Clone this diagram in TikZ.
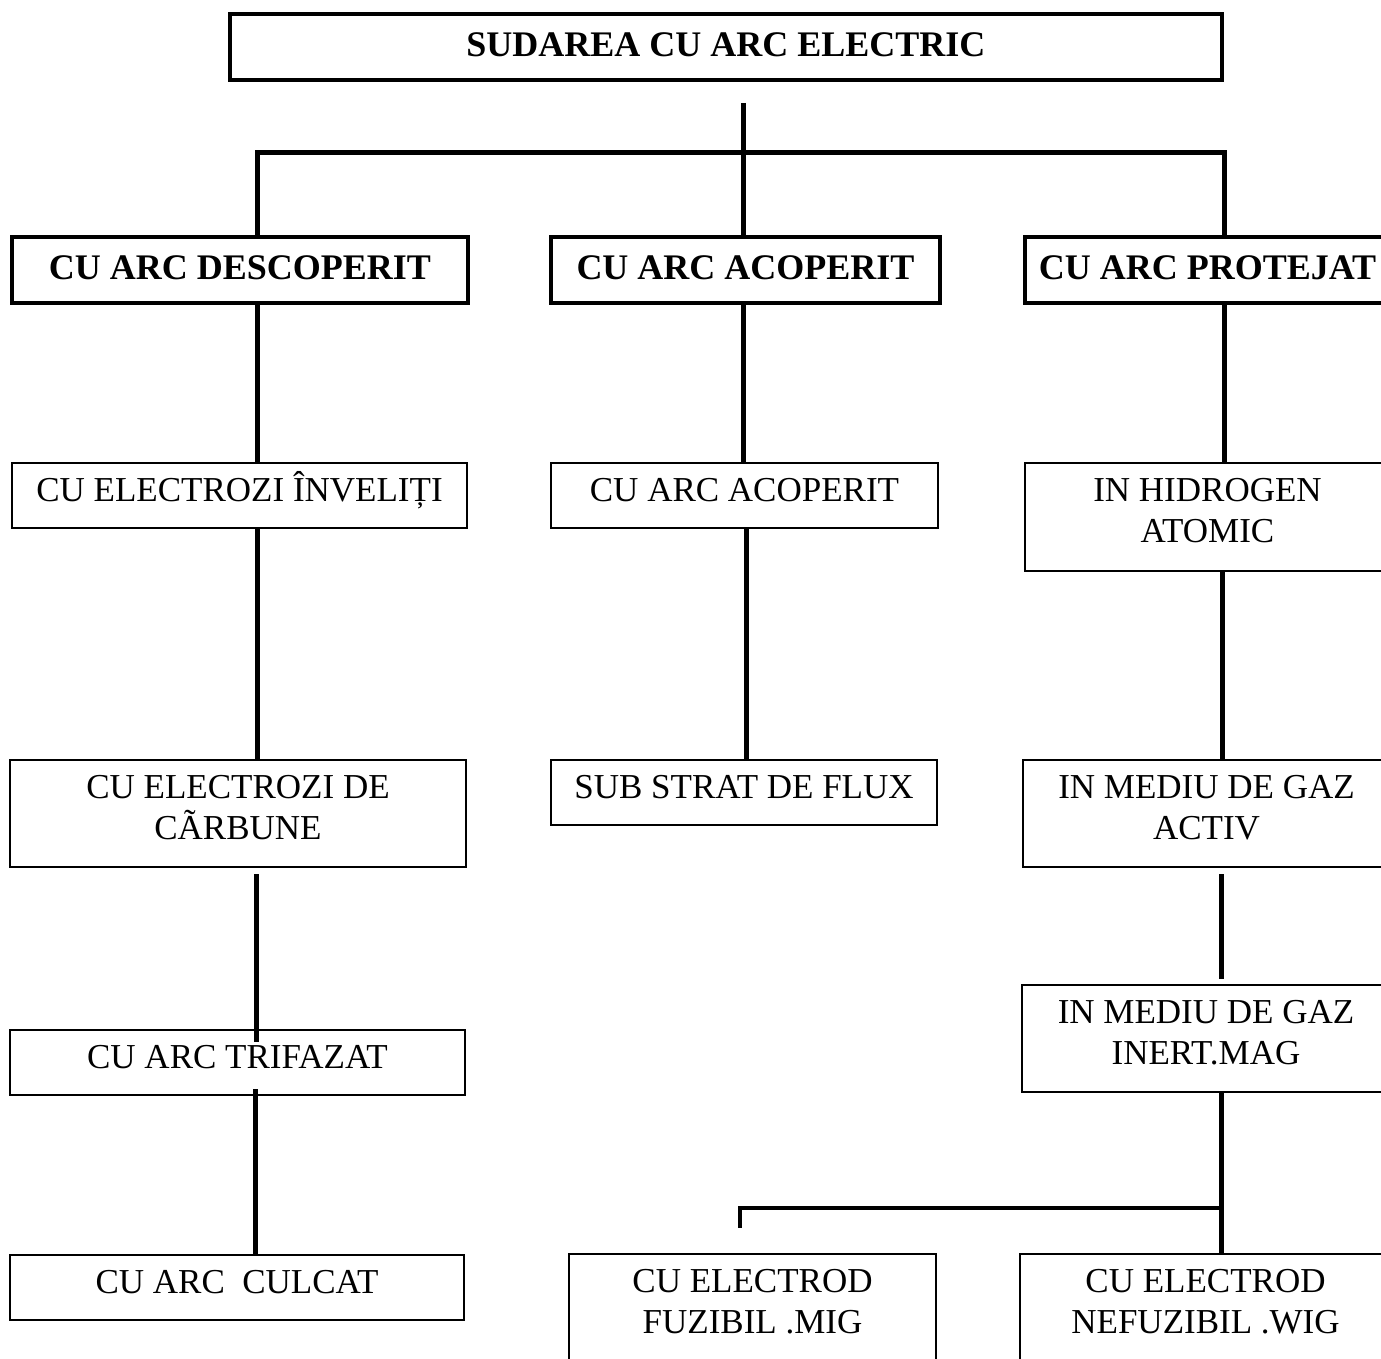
\documentclass[tikz,border=0pt]{standalone}
\usepackage{fontspec}
\setmainfont{Liberation Serif}
\begin{document}
\begin{tikzpicture}[x=1pt,y=-1pt,
  conn/.style={line width=5pt, line join=miter},
  titlebox/.style={draw, line width=4pt, inner sep=0pt, align=center,
    text height=28pt, text depth=9pt,
    font=\bfseries\fontsize{36}{40}\selectfont},
  catbox/.style={draw, line width=4pt, inner sep=0pt, align=center,
    text height=28pt, text depth=10pt,
    font=\bfseries\fontsize{36}{40}\selectfont},
  itembox/.style={draw, line width=2pt, inner sep=0pt, align=center,
    font=\fontsize{35}{41}\selectfont},
  oneline/.style={text height=28pt, text depth=16.8pt},
  twoline/.style={text height=69pt, text depth=17.8pt},
  openbox/.style={itembox, draw=none, text height=69pt, text depth=7.8pt}]
\useasboundingbox (0,0) rectangle (1381,1359);
\clip (0,0) rectangle (1381,1359);
\fill[white] (0,0) rectangle (1381,1359);

% title
\node[titlebox, minimum width=992pt, minimum height=66pt] (top) at (726,47) {SUDAREA CU ARC ELECTRIC};

% first level
\node[catbox, minimum width=456pt, minimum height=66pt] (a1) at (240,270) {CU ARC DESCOPERIT};
\node[catbox, minimum width=389pt, minimum height=66pt] (b1) at (745.5,270) {CU ARC ACOPERIT};
\node[catbox, minimum width=365pt, minimum height=66pt] (c1) at (1207.5,270) {CU ARC PROTEJAT};

% left column
\node[itembox, oneline, minimum width=455pt, minimum height=65pt] (a2) at (239.5,495.5) {CU ELECTROZI ÎNVELIȚI};
\node[itembox, twoline, minimum width=456pt, minimum height=107pt] (a3) at (238,813.5) {CU ELECTROZI DE\\CÃRBUNE};
\node[itembox, oneline, minimum width=455pt, minimum height=65pt] (a4) at (237.5,1062.5) {CU ARC TRIFAZAT};
\node[itembox, oneline, minimum width=454pt, minimum height=65pt] (a5) at (237,1287.5) {CU ARC\ \ CULCAT};

% middle column
\node[itembox, oneline, minimum width=387pt, minimum height=65pt] (b2) at (744.5,495.5) {CU ARC ACOPERIT};
\node[itembox, oneline, minimum width=386pt, minimum height=65pt] (b3) at (744,792.5) {SUB STRAT DE FLUX};
\node[openbox, minimum width=365pt, minimum height=96pt] (m5) at (752.5,1303) {CU ELECTROD\\FUZIBIL .MIG};
\draw[line width=2pt] (m5.south west) ++(0,30) -- (m5.north west) -- (m5.north east) -- ++(0,130);

% right column
\node[itembox, twoline, minimum width=365pt, minimum height=108pt] (c2) at (1207.5,517) {IN HIDROGEN\\ATOMIC};
\node[itembox, twoline, minimum width=367pt, minimum height=107pt] (c3) at (1206.5,813.5) {IN MEDIU DE GAZ\\ACTIV};
\node[itembox, twoline, minimum width=368pt, minimum height=107pt] (c4) at (1206,1038.5) {IN MEDIU DE GAZ\\INERT.MAG};
\node[openbox, minimum width=369pt, minimum height=96pt] (c5) at (1205.5,1303) {CU ELECTROD\\NEFUZIBIL .WIG};
\draw[line width=2pt] (c5.south west) ++(0,30) -- (c5.north west) -- (c5.north east) -- ++(0,130);

% junction points
\coordinate (j0) at (743,103);
\coordinate (jm) at (743,153);
\coordinate (jl) at (257,153);
\coordinate (jr) at (1224,153);
\coordinate (xb) at (746,0);
\coordinate (xl3) at (256,0);
\coordinate (xl4) at (255,0);
\coordinate (xr2) at (1222,0);
\coordinate (xr3) at (1221,0);
\coordinate (jb) at (1221,1208);
\coordinate (jbl) at (740,1208);
\coordinate (stub) at (740,1228);

% connectors
\draw[conn] (j0) -- (jm);
\draw[conn] (a1.north -| jl) -- (jl) -- (jr) -- (c1.north -| jr);
\draw[conn] (jm) -- (b1.north -| jm);

\draw[conn] (a1.south -| jl) -- (a2.north -| jl);
\draw[conn] (a2.south -| jl) -- (a3.north -| jl);
\draw[conn, shorten <=6pt, shorten >=-13pt] (a3.south -| xl3) -- (a4.north -| xl3);
\draw[conn, shorten <=-7pt, shorten >=-2pt] (a4.south -| xl4) -- (a5.north -| xl4);

\draw[conn] (b1.south -| jm) -- (b2.north -| jm);
\draw[conn] (b2.south -| xb) -- (b3.north -| xb);

\draw[conn] (c1.south -| jr) -- (c2.north -| jr);
\draw[conn] (c2.south -| xr2) -- (c3.north -| xr2);
\draw[conn, shorten <=6pt, shorten >=5pt] (c3.south -| xr3) -- (c4.north -| xr3);
\draw[conn] (c4.south -| xr3) -- (c5.north -| xr3);
\draw[conn, line width=4pt] (jb) -- (jbl) -- (stub);
\end{tikzpicture}
\end{document}
